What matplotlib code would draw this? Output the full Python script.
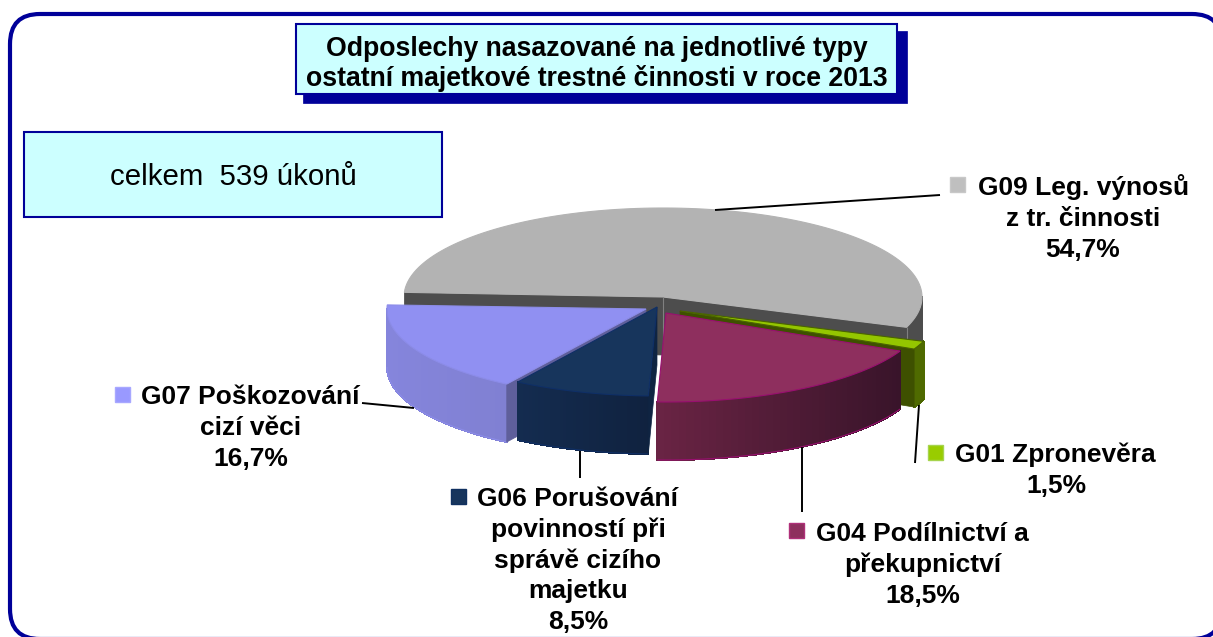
import numpy as np
import matplotlib
matplotlib.use("Agg")
import matplotlib.pyplot as plt
from matplotlib.colors import to_rgb
from matplotlib.patches import FancyBboxPatch, Polygon, Rectangle

plt.rcParams["font.family"] = ["Liberation Sans", "DejaVu Sans"]

# -------------------------------------------------------------------------
# Data
# -------------------------------------------------------------------------
codes = ["G09", "G01", "G04", "G06", "G07"]
shares = [54.7, 1.5, 18.5, 8.5, 16.7]
labels = [
    "z tr. činnosti\n54,7%",
    "1,5%",
    "překupnictví\n18,5%",
    "povinností při\nsprávě cizího\nmajetku\n8,5%",
    "cizí věci\n16,7%",
]
first_lines = [
    "G09 Leg. výnosů",
    "G01 Zpronevěra",
    "G04 Podílnictví a",
    "G06 Porušování",
    "G07 Poškozování",
]
title_lines = ["Odposlechy nasazované na jednotlivé typy", "ostatní majetkové trestné činnosti v roce 2013"]
total_text = "celkem  539 úkonů"

# -------------------------------------------------------------------------
# Styles and layout (pixels of the picture)
# -------------------------------------------------------------------------
NAVY = "#000099"
BOX = "#ccffff"
START = 177.0
RX, RY, DEPTH = 259.0, 89.0, 58.0
LABEL_SIZE = 19.0
LINE_STEP = 30.8

apex = {"G09": (663, 297), "G01": (680, 311), "G04": (666, 313), "G06": (657, 307), "G07": (646, 309)}
top_col = {"G09": "#b3b3b3", "G01": "#94c600", "G04": "#8e2f5e", "G06": "#17355c", "G07": "#9090f2"}
edge_col = {"G09": "#4d4d4d", "G01": "#4a6400", "G04": "#990f70", "G06": "#0f2f66", "G07": "#8c8ce8"}
top_edge = {"G09": "#b3b3b3", "G01": "#4a6400", "G04": "#990f70", "G06": "#0f2f66", "G07": "#8c8ce8"}
cut_col = {"G09": "#4d4d4d", "G01": "#3e5000", "G06": "#0f2442", "G07": "#5f5f9b"}
wall_left = {"G09": "#4d4d4d", "G01": "#4f6a00", "G04": "#6a2444", "G06": "#142c50", "G07": "#8585dc"}
wall_right = {"G09": "#4d4d4d", "G01": "#4f6a00", "G04": "#39142a", "G06": "#10223f", "G07": "#8080d2"}
key_col = {"G09": "#bfbfbf", "G01": "#99cc00", "G04": "#8e2f5e", "G06": "#17355c", "G07": "#9999ff"}
key_edge = {"G09": "#c8c8c8", "G01": "#a6d44d", "G04": "#b0307a", "G06": "#103060", "G07": "#a8a8ff"}
key_pos = {"G09": (950, 177), "G01": (928, 445), "G04": (789, 523), "G06": (451, 489), "G07": (115, 387)}

# centre x of the lower lines, baseline y of the first line, x where the first line starts
text_pos = {"G09": (1083, 195), "G01": (1056, 462), "G04": (923, 541), "G06": (578, 506), "G07": (251, 404)}
key_text_x = {"G09": 978, "G01": 955, "G04": 816, "G06": 477, "G07": 141}
leaders = {
    "G09": ((715, 210), (940, 195)),
    "G01": ((919, 405), (915, 463)),
    "G04": ((802, 447), (802, 512)),
    "G06": ((580, 451), (580, 478)),
    "G07": ((362, 403), (414, 408)),
}

fig = plt.figure(figsize=(12.13, 6.37), dpi=100)
ax = fig.add_axes([0, 0, 1, 1])
ax.set_xlim(0, 1213)
ax.set_ylim(637, 0)
ax.axis("off")


def rim(code, deg):
    rad = np.radians(deg)
    x0, y0 = apex[code]
    return np.column_stack([x0 + RX * np.cos(rad), y0 - RY * np.sin(rad)])


def cut_wall(code, deg):
    x0, y0 = apex[code]
    xr, yr = rim(code, np.array([deg]))[0]
    pts = [(x0, y0), (xr, yr), (xr, yr + DEPTH), (x0, y0 + DEPTH)]
    ax.add_patch(Polygon(pts, closed=True, fc=cut_col[code], ec=cut_col[code], lw=0.5))


def outer_wall(code, a0, a1):
    # a0 > a1, narrow strips so that the shade can run along the wall
    lo, hi = max(a1, -180), min(a0, 0)
    if lo >= hi:
        return
    left = np.array(to_rgb(wall_left[code]))
    right = np.array(to_rgb(wall_right[code]))
    steps = np.linspace(lo, hi, 41)
    xs = rim(code, steps)[:, 0]
    span = max(xs.max() - xs.min(), 1)
    for i in range(40):
        p = rim(code, steps[i:i + 2])
        t = (p[:, 0].mean() - xs.min()) / span
        c = left * (1 - t) + right * t
        quad = [p[0], p[1], p[1] + [0, DEPTH], p[0] + [0, DEPTH]]
        ax.add_patch(Polygon(quad, closed=True, fc=c, ec=c, lw=0.8, antialiased=False))
    low = rim(code, steps) + [0, DEPTH]
    ax.add_patch(Polygon(low, closed=False, fill=False, ec=edge_col[code], lw=0.8))


def top_face(code, a0, a1):
    arc = rim(code, np.linspace(a0, a1, 120))
    pts = np.vstack([[apex[code]], arc])
    ax.add_patch(Polygon(pts, closed=True, fc=top_col[code], ec=top_edge[code], lw=0.8))


def seam(x, y0, y1):
    ax.add_patch(Polygon([(x, y0), (x, y1)], closed=False, fill=False, ec="#808080", lw=0.8))


# -------------------------------------------------------------------------
# Frame and boxes
# -------------------------------------------------------------------------
ax.add_patch(FancyBboxPatch((10, 14), 1212, 625, boxstyle="round,pad=0,rounding_size=30",
                            fc="white", ec=NAVY, lw=3.0))
ax.add_patch(Rectangle((303, 31), 604, 72, fc=NAVY, ec=NAVY, lw=0.5))
ax.add_patch(Rectangle((296, 24), 601, 70, fc=BOX, ec=NAVY, lw=1.5))
for line, y in zip(title_lines, [56, 85.5]):
    ax.text(597, y, line, ha="center", va="baseline", fontsize=19.15, fontweight="bold", color="black")
ax.add_patch(Rectangle((24, 132), 418, 85, fc=BOX, ec=NAVY, lw=1.5))
ax.text(233, 177, total_text, ha="center", va="center", fontsize=21.2, color="black")

# -------------------------------------------------------------------------
# Pie: angles come from the shares, clockwise from START
# -------------------------------------------------------------------------
angles = {}
a = START
for code, share in zip(codes, shares):
    angles[code] = (a, a - share * 3.6)
    a -= share * 3.6

# back slice first, then the ones in front of it
a0, a1 = angles["G09"]
cut_wall("G09", a0)
cut_wall("G09", a1)
outer_wall("G09", a0, a1)
top_face("G09", a0, a1)
seam(663, 297, 355)
xg, yg = rim("G09", np.array([a1]))[0]
seam(xg, yg, yg + DEPTH)

# which cut side of a slice can be seen: 0 = its first angle, 1 = its last
visible_cut = {"G01": 1, "G07": 0, "G06": 0}
for code in ["G01", "G04", "G07", "G06"]:
    a0, a1 = angles[code]
    outer_wall(code, a0, a1)
    if code in visible_cut:
        cut_wall(code, angles[code][visible_cut[code]])
    top_face(code, a0, a1)

# -------------------------------------------------------------------------
# Leader lines, keys and labels
# -------------------------------------------------------------------------
for code, first, rest in zip(codes, first_lines, labels):
    (x0, y0), (x1, y1) = leaders[code]
    ax.plot([x0, x1], [y0, y1], color="black", lw=1.4, solid_capstyle="butt")
    kx, ky = key_pos[code]
    ax.add_patch(Rectangle((kx, ky), 15, 15, fc=key_col[code], ec=key_edge[code], lw=1.0))
    tx, ty = text_pos[code]
    ax.text(key_text_x[code], ty, first, ha="left", va="baseline", fontsize=LABEL_SIZE,
            fontweight="bold", color="black")
    for i, line in enumerate(rest.split("\n")):
        ax.text(tx, ty + (i + 1) * LINE_STEP, line, ha="center", va="baseline", fontsize=LABEL_SIZE,
                fontweight="bold", color="black")

fig.savefig("out.png", dpi=100)
